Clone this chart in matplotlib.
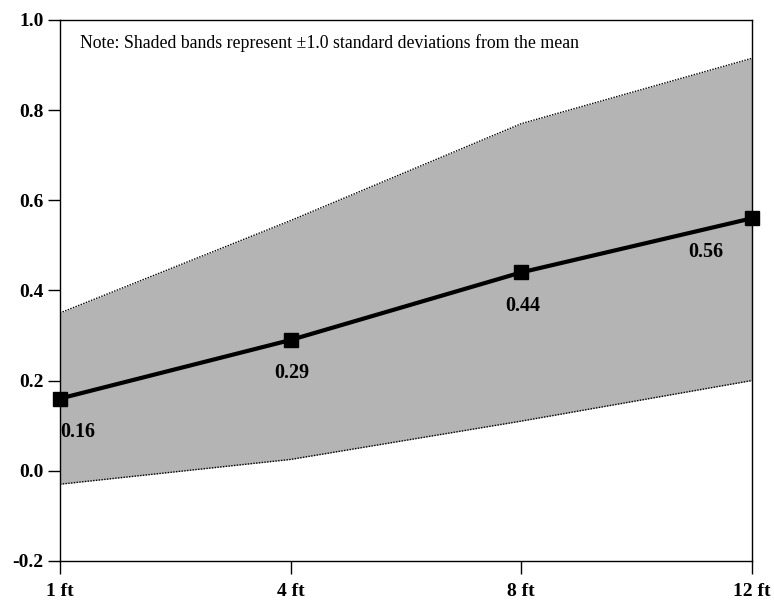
import matplotlib.pyplot as plt

# distances along the x axis
positions = ['1 ft', '4 ft', '8 ft', '12 ft']

# mean and +/- 1 sd band
mean_vals = [0.16, 0.29, 0.44, 0.56]
upper_vals = [0.35, 0.555, 0.77, 0.915]
lower_vals = [-0.03, 0.025, 0.11, 0.20]
labels = ['0.16', '0.29', '0.44', '0.56']

yticks = [-0.2, 0.0, 0.2, 0.4, 0.6, 0.8, 1.0]

plt.rcParams['font.family'] = ['Liberation Serif', 'DejaVu Serif']

fig = plt.figure(figsize=(7.74, 6.05), dpi=100)
ax = fig.add_axes([0.0775, 0.073, 0.894, 0.894])

x = list(range(len(positions)))

# shaded band
ax.fill_between(x, lower_vals, upper_vals, color='#b4b4b4', linewidth=0)
ax.plot(x, upper_vals, color='black', lw=1, ls=(0, (1, 1)))
ax.plot(x, lower_vals, color='black', lw=1, ls=(0, (1, 1)))

# mean line
ax.plot(x, mean_vals, color='black', lw=3, marker='s', markersize=10,
        clip_on=False, zorder=5)

# data labels
for i, lab in enumerate(labels):
    dx = 13 if i == 0 else 1
    if i == len(labels) - 1:
        dx = -33
    dy = -24 if i < 2 else -24
    ax.annotate(lab, (x[i], mean_vals[i]), xytext=(dx, dy),
                textcoords='offset points', ha='center', va='center',
                fontsize=14.5, fontweight='bold')

ax.text(0.029, 0.957, 'Note: Shaded bands represent \u00b11.0 standard deviations from the mean',
        transform=ax.transAxes, fontsize=12.8, va='center')

ax.set_xlim(0, 3)
ax.set_ylim(-0.2, 1.0)
ax.set_xticks(x)
ax.set_xticklabels(positions)
ax.set_yticks(yticks)
ax.set_yticklabels(['%.1f' % v for v in yticks])

ax.tick_params(axis='both', direction='out', length=9, width=1,
               labelsize=14)
ax.tick_params(axis='x', pad=7)
ax.tick_params(axis='y', pad=3)
for lab in ax.get_xticklabels() + ax.get_yticklabels():
    lab.set_fontweight('bold')

for sp in ax.spines.values():
    sp.set_linewidth(1)

plt.savefig('out.png', dpi=100)
